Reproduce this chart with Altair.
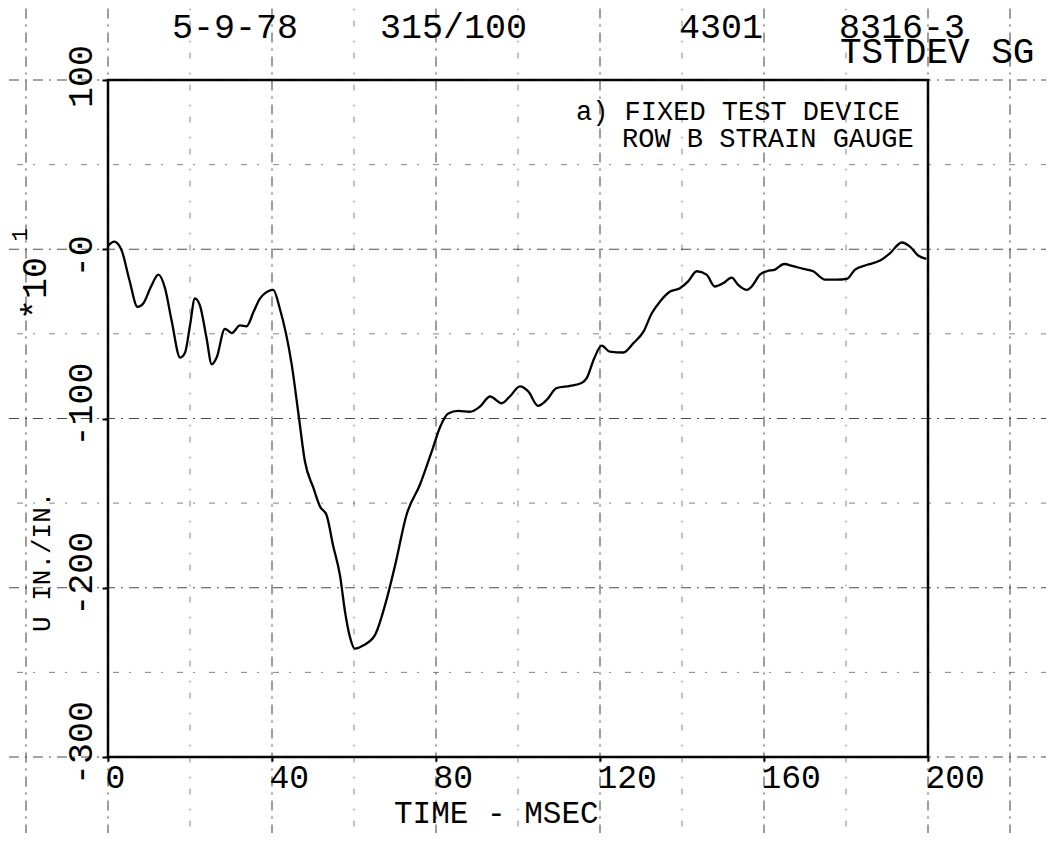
import altair as alt
import pandas as pd

# ---- data -------------------------------------------------------------------
time_ms = [0, 1.5, 3.3, 5.2, 7.2, 8.6, 10.5, 12.3, 13.9, 15.5, 17.6, 18.8, 20.0,
           21.2, 22.4, 24.0, 25.3, 26.5, 28.5, 30.2, 32.2, 33.8, 35.5, 37.1,
           40.3, 41.9, 44.8, 46.6, 48.0, 50.1, 51.7, 53.3, 54.9, 56.6, 57.8,
           59.0, 60.2, 62.3, 65.1, 67.6, 70.0, 72.8, 76.1, 79.3, 81.0, 83.0,
           85.4, 88.3, 90.7, 93.2, 96.0, 98.0, 100.5, 102.5, 104.9, 107.0,
           109.4, 112.7, 115.5, 116.8, 118.5, 120.4, 122.4, 125.7, 128.1,
           130.6, 132.6, 134.6, 137.1, 139.5, 141.5, 143.6, 146.0, 148.0,
           150.1, 152.1, 153.7, 155.8, 157.0, 159.0, 160.7, 162.7, 164.9,
           167.1, 169.6, 172.0, 174.9, 177.7, 180.2, 182.2, 185.0, 188.3,
           190.7, 193.6, 195.6, 197.6, 199.6]
strain = [2, 4.5, -0.5, -18, -34, -32, -22, -15, -23, -42, -64, -61, -45,
          -29, -33, -52, -68, -64, -47, -49.5, -45, -45.5, -37, -29,
          -24, -35, -68, -100, -125, -141, -152, -157, -175, -193, -214,
          -229, -236, -234, -228, -210, -187, -157, -139, -117, -105, -97,
          -95.5, -96, -93, -87, -91, -87, -81, -84, -92.5, -89,
          -82, -80.7, -79, -76, -65, -57, -60.5, -61, -55.6,
          -48.7, -38, -31, -25, -23, -19, -13, -15, -22,
          -20, -16.8, -21, -24, -22, -15, -13, -12, -8.7,
          -10, -11.6, -13, -18, -18, -17.5, -12, -9.3, -6.7,
          -2.4, 4, 1.6, -3.7, -5.7]

x_ticks = [0, 40, 80, 120, 160, 200]
y_ticks = [100, 0, -100, -200, -300]
y_tick_labels = ["100", "-0", "-100", "-200", "-300"]

grid_x_major = [-20, 0, 40, 80, 120, 160, 200, 220]
grid_x_minor = [20, 60, 100, 140, 180]
grid_y_major = [100, 0, -100, -200, -300]
grid_y_minor = [50, -50, -150, -250]

header_top = ["5-9-78", "315/100", "4301", "8316-3"]
header_second = "TSTDEV SG"
note_lines = ["a) FIXED TEST DEVICE", "ROW B STRAIN GAUGE"]
x_title = "TIME - MSEC"
y_title = "U IN./IN."
y_factor = "*10"
y_factor_exp = "1"

# ---- scales / axes -----------------------------------------------------------
PLOT = "Liberation Mono"
xs = alt.Scale(domain=[0, 200], nice=False, zero=False)
ys = alt.Scale(domain=[-300, 100], nice=False, zero=False)

x_axis = alt.Axis(values=x_ticks, title=None, format="d", grid=False, domain=False,
                  labelFont=PLOT, labelFontSize=33, labelColor="black",
                  labelAlign="left", labelBaseline="top", labelOffset=-3,
                  labelPadding=0, tickSize=4, tickWidth=2, tickColor="black",
                  labelFlush=False, labelOverlap=False)
y_axis = alt.Axis(values=y_ticks, title=None, grid=False, domain=False,
                  labels=False, tickSize=6, tickWidth=2, tickColor="black")

GRID = dict(color="#111", strokeWidth=1.1, strokeDash=[10, 6, 2, 6], opacity=0.75, clip=False)
GRID_MINOR = dict(color="#222", strokeWidth=1.0, strokeDash=[6, 10, 2, 14], opacity=0.55, clip=False)

# ---- grid (extends beyond the frame like the plotter paper) --------------------
def vgrid(values, style):
    df = pd.DataFrame({"t": values, "lo": [-360] * len(values), "hi": [160] * len(values)})
    return alt.Chart(df).mark_rule(**style).encode(
        x=alt.X("t:Q", scale=xs, axis=x_axis),
        y=alt.Y("lo:Q", scale=ys, axis=y_axis),
        y2="hi:Q",
    )

def hgrid(values, style):
    df = pd.DataFrame({"v": values, "lo": [-30] * len(values), "hi": [240] * len(values)})
    return alt.Chart(df).mark_rule(**style).encode(
        x=alt.X("lo:Q", scale=xs, axis=x_axis),
        x2="hi:Q",
        y=alt.Y("v:Q", scale=ys, axis=y_axis),
    )

# ---- the trace ---------------------------------------------------------------
line_df = pd.DataFrame({"t": time_ms, "v": strain})
trace = alt.Chart(line_df).mark_line(
    color="black", strokeWidth=2.3, interpolate="monotone"
).encode(
    x=alt.X("t:Q", scale=xs, axis=x_axis),
    y=alt.Y("v:Q", scale=ys, axis=y_axis),
)

# ---- y tick labels (rotated, reading upward, starting just below the tick) -----
ylab_df = pd.DataFrame({"v": y_ticks, "label": y_tick_labels})
ylabels = alt.Chart(ylab_df).mark_text(
    font=PLOT, fontSize=35, color="black", angle=270, align="left",
    baseline="middle", dx=-28
).encode(
    y=alt.Y("v:Q", scale=ys, axis=y_axis),
    x=alt.value(-27),
    text="label:N",
)

# ---- texts -------------------------------------------------------------------
def txt(s, x, y, size, font=PLOT, angle=0, align="left", baseline="alphabetic"):
    kw = dict(text=s, font=font, fontSize=size, color="black", align=align,
              baseline=baseline)
    if angle:
        kw["angle"] = angle
    return alt.Chart(pd.DataFrame({"a": [0]})).mark_text(**kw).encode(
        x=alt.value(x), y=alt.value(y))

header_x = [64, 272, 571, 731]
texts = [txt(s, hx, -42, 35) for s, hx in zip(header_top, header_x)]
texts.append(txt(header_second, 732, -17, 36))
texts.append(txt(note_lines[0], 468, 40, 27))
texts.append(txt(note_lines[1], 514, 67, 27))
texts.append(txt(x_title, 286, 743, 31))
texts.append(txt(y_title, -66, 552, 26, angle=270, baseline="middle"))
texts.append(txt(y_factor, -73, 240, 35, angle=270, baseline="middle"))
texts.append(txt(y_factor_exp, -88, 155, 22, angle=270, align="center", baseline="middle"))

chart = alt.layer(
    vgrid(grid_x_major, GRID), vgrid(grid_x_minor, GRID_MINOR),
    hgrid(grid_y_major, GRID), hgrid(grid_y_minor, GRID_MINOR),
    trace, ylabels, *texts
).properties(
    width=820, height=677,
    padding={"left": 100, "top": 72, "right": 118, "bottom": 76},
    autosize=alt.AutoSizeParams(type="none"),
    background="white",
).configure_view(stroke="black", strokeWidth=2.5)

chart.save("out.html", embed_options={"renderer": "svg", "actions": False})
